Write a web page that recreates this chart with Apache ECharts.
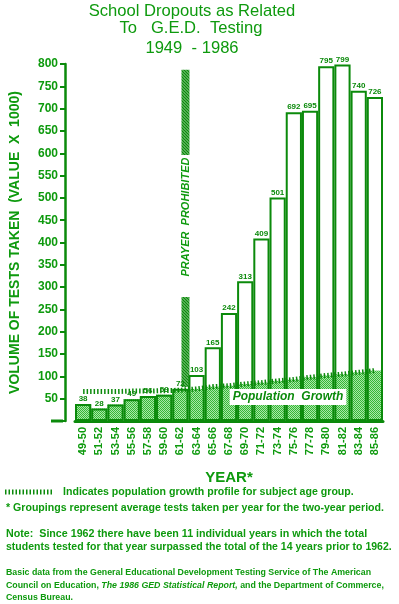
<!DOCTYPE html>
<html>
<head>
<meta charset="utf-8">
<script src="https://cdn.jsdelivr.net/npm/echarts@6/dist/echarts.min.js"></script>
<style>
  html, body { margin: 0; padding: 0; background: #fff; }
  #main { width: 399px; height: 604px; }
</style>
</head>
<body>
<div id="main"></div>
<script>
var years = ['49-50', '51-52', '53-54', '55-56', '57-58', '59-60', '61-62', '63-64', '65-66', '67-68',
  '69-70', '71-72', '73-74', '75-76', '77-78', '79-80', '81-82', '83-84', '85-86'];
var testsTaken = [38, 28, 37, 49, 56, 59, 72, 103, 165, 242, 313, 409, 501, 692, 695, 795, 799, 740, 726];
var popGrowth = [66, 66, 66, 67, 67, 68, 69, 72, 77, 79, 83, 86, 90, 93, 98, 102, 105, 109, 113];
var yTicks = [0, 800, 50];
// 1962 marker: [category index, from, to] (hatched column beside 61-62)
var prayerHatch = [[6, 596, 787], [6, 76, 278]];

var green = '#0e9a0e';
var dark = '#0b8a0b';
var font = 'Liberation Sans, Arial, sans-serif';

// shaded part of each bar = population level (or the bar itself when lower)
var shaded = testsTaken.map(function (v, i) { return Math.min(v, popGrowth[i]); });

var hatch = document.createElement('canvas');
hatch.width = 3; hatch.height = 3;
(function () {
  var g = hatch.getContext('2d');
  g.strokeStyle = dark; g.lineWidth = 1.6;
  g.beginPath();
  g.moveTo(-1, -1); g.lineTo(4, 4);
  g.moveTo(-1, 2); g.lineTo(1, 4);
  g.moveTo(2, -1); g.lineTo(4, 1);
  g.stroke();
})();

// stipple used for the population shading
var dots = document.createElement('canvas');
dots.width = 2; dots.height = 2;
(function () {
  var g = dots.getContext('2d');
  g.fillStyle = '#a8e6a8'; g.fillRect(0, 0, 2, 2);
  g.fillStyle = '#36b836'; g.fillRect(0, 0, 1, 1); g.fillRect(1, 1, 1, 1);
})();

var gridLeft = 62, gridRight = 16, gridTop = 64, gridBottom = 183, yOffset = 10;

var myChart = echarts.init(document.getElementById('main'));
var option = {
  animation: false,
  grid: { left: gridLeft, right: gridRight, top: gridTop, bottom: gridBottom },
  xAxis: {
    type: 'category',
    data: years,
    name: 'YEAR*',
    nameLocation: 'middle',
    nameGap: 49,
    nameTextStyle: { color: green, fontWeight: 'bold', fontSize: 15, fontFamily: font },
    axisLine: { lineStyle: { color: dark, width: 3 } },
    axisTick: { show: false },
    axisLabel: { rotate: 90, interval: 0, margin: 6, color: green, fontWeight: 'bold', fontSize: 11, fontFamily: font }
  },
  yAxis: {
    type: 'value',
    min: yTicks[0], max: yTicks[1], interval: yTicks[2],
    offset: yOffset,
    name: 'VOLUME OF TESTS TAKEN  (VALUE  X  1000)',
    nameLocation: 'middle',
    nameRotate: 90,
    nameGap: 43,
    nameTextStyle: { color: green, fontWeight: 'bold', fontSize: 14, fontFamily: font },
    axisLine: { show: true, lineStyle: { color: dark, width: 2.5 } },
    axisTick: { show: true, length: 5, lineStyle: { color: dark, width: 2 } },
    splitLine: { show: false },
    axisLabel: {
      margin: 7, color: green, fontWeight: 'bold', fontSize: 12, fontFamily: font,
      formatter: function (v) { return v === 0 ? '' : v; }
    }
  },
  series: [
    {
      type: 'bar',
      data: shaded,
      barCategoryGap: 0,
      barGap: '-100%',
      z: 1,
      itemStyle: { color: { image: dots, repeat: 'repeat' } }
    },
    {
      type: 'line',
      data: popGrowth,
      z: 2,
      symbol: 'none',
      lineStyle: { color: dark, width: 5, type: [1.5, 2] }
    },
    {
      type: 'bar',
      data: testsTaken,
      barCategoryGap: 0,
      barGap: '-100%',
      z: 3,
      itemStyle: { color: 'rgba(0,0,0,0)', borderColor: dark, borderWidth: 2 },
      label: { show: true, position: 'top', distance: 1, color: dark, fontSize: 8, fontWeight: 'bold', fontFamily: font }
    },
    {
      type: 'custom',
      data: prayerHatch,
      encode: { x: 0, y: [1, 2] },
      z: 5,
      renderItem: function (params, api) {
        var lo = api.coord([api.value(0), api.value(1)]);
        var hi = api.coord([api.value(0), api.value(2)]);
        var w = api.size([1, 0])[0];
        var cx = lo[0] + w / 2 - 3;
        return {
          type: 'rect',
          shape: { x: cx - 4, y: hi[1], width: 8, height: lo[1] - hi[1] },
          style: { fill: { image: hatch, repeat: 'repeat' } }
        };
      }
    }
  ]
};
myChart.setOption(option);

var base = myChart.convertToPixel({ xAxisIndex: 0, yAxisIndex: 0 }, [6, 0]);
var mid = myChart.convertToPixel({ xAxisIndex: 0, yAxisIndex: 0 }, [6, 457]);
var bw = myChart.getModel().getComponent('xAxis').axis.getBandWidth();
var axisY = base[1];

function txt(x, y, s, size, extra) {
  var st = { text: s, x: x, y: y, fill: green, font: 'bold ' + size + 'px ' + font, textAlign: 'left', textVerticalAlign: 'middle' };
  for (var k in extra) st[k] = extra[k];
  return { type: 'text', style: st, z: 10 };
}

myChart.setOption({
  graphic: [
    txt(192, 11, 'School Dropouts as Related', 16.6, { font: '16.6px ' + font, textAlign: 'center' }),
    txt(191, 28, 'To   G.E.D.  Testing', 16.6, { font: '16.6px ' + font, textAlign: 'center' }),
    txt(192, 48, '1949  - 1986', 16.6, { font: '16.6px ' + font, textAlign: 'center' }),
    { type: 'line', z: 10, shape: { x1: gridLeft - yOffset - 1, y1: axisY, x2: gridLeft + 1, y2: axisY }, style: { stroke: dark, lineWidth: 3 } },
    {
      type: 'text', z: 10, rotation: Math.PI / 2, x: mid[0] + bw / 2 - 3, y: mid[1],
      style: { text: 'PRAYER  PROHIBITED', fill: green, font: 'italic bold 11px ' + font, textAlign: 'center', textVerticalAlign: 'middle', backgroundColor: '#fff', padding: [0, 2] }
    },
    {
      type: 'text', z: 10, x: 288, y: 397,
      style: { text: 'Population  Growth', fill: dark, font: 'italic bold 12px ' + font, textAlign: 'center', textVerticalAlign: 'middle', backgroundColor: '#fff', padding: [2, 3] }
    },
    { type: 'line', z: 10, shape: { x1: 5, y1: 492, x2: 54, y2: 492 }, style: { stroke: dark, lineWidth: 5, lineDash: [1.5, 2] } },
    txt(63, 492, 'Indicates population growth profile for subject age group.', 10.6),
    txt(6, 508, '* Groupings represent average tests taken per year for the two-year period.', 10.6),
    txt(6, 534, 'Note:  Since 1962 there have been 11 individual years in which the total', 10.7),
    txt(6, 547, 'students tested for that year surpassed the total of the 14 years prior to 1962.', 10.5),
    txt(6, 573, 'Basic data from the General Educational Development Testing Service of The American', 8.8),
    {
      type: 'text', z: 10, x: 6, y: 586,
      style: {
        text: 'Council on Education, {i|The 1986 GED Statistical Report,} and the Department of Commerce,',
        fill: green, font: 'bold 8.8px ' + font, textVerticalAlign: 'middle',
        rich: { i: { fontStyle: 'italic', fontWeight: 'bold', fontSize: 8.8, fontFamily: font, fill: green } }
      }
    },
    txt(6, 598, 'Census Bureau.', 8.8)
  ]
});
</script>
</body>
</html>
